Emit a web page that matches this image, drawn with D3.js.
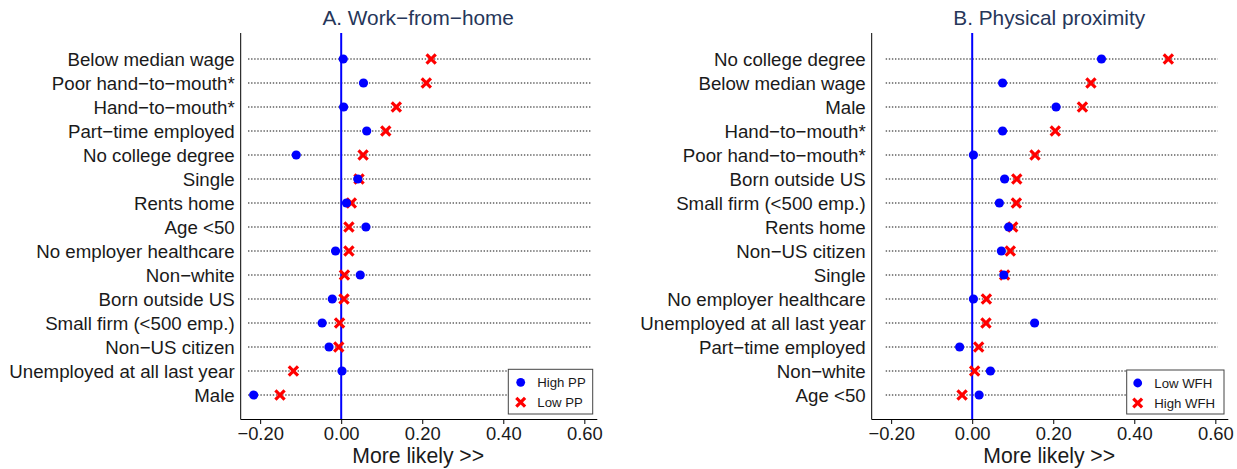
<!DOCTYPE html>
<html><head><meta charset="utf-8">
<script src="https://cdn.jsdelivr.net/npm/d3@7"></script>
<style>
html,body{margin:0;padding:0;background:#fff;}
svg{display:block;font-family:"Liberation Sans",Arial,Helvetica,sans-serif;}
</style></head>
<body><svg id="chart" width="1237" height="469"></svg>
<script>
// ---- Data ----
const titleA = "A. Work\u2212from\u2212home";
const categoriesA = ["Below median wage","Poor hand\u2212to\u2212mouth*","Hand\u2212to\u2212mouth*","Part\u2212time employed","No college degree","Single","Rents home","Age <50","No employer healthcare","Non\u2212white","Born outside US","Small firm (<500 emp.)","Non\u2212US citizen","Unemployed at all last year","Male"];
const highPP = [0.005,0.055,0.006,0.063,-0.111,0.041,0.013,0.061,-0.014,0.047,-0.022,-0.047,-0.030,0.002,-0.216];
const lowPP  = [0.222,0.210,0.136,0.110,0.054,0.044,0.025,0.019,0.019,0.008,0.007,-0.004,-0.006,-0.118,-0.151];
const legendA = ["High PP","Low PP"];

const titleB = "B. Physical proximity";
const categoriesB = ["No college degree","Below median wage","Male","Hand\u2212to\u2212mouth*","Poor hand\u2212to\u2212mouth*","Born outside US","Small firm (<500 emp.)","Rents home","Non\u2212US citizen","Single","No employer healthcare","Unemployed at all last year","Part\u2212time employed","Non\u2212white","Age <50"];
const lowWFH  = [0.319,0.075,0.207,0.075,0.003,0.080,0.067,0.090,0.072,0.078,0.003,0.154,-0.031,0.045,0.017];
const highWFH = [0.484,0.293,0.272,0.205,0.155,0.110,0.109,0.100,0.094,0.080,0.035,0.034,0.016,0.006,-0.025];
const legendB = ["Low WFH","High WFH"];

const tickValues = [-0.2,0,0.2,0.4,0.6];
const xLabel = "More likely >>";
const xDomain = [-0.248, 0.632];

// ---- Drawing ----
const svg = d3.select("#chart");
const BLUE = "#0000ff", RED = "#ff0000";
const plotTop = 33, plotBottom = 419, firstRow = 59, lastRow = 395;

function drawCross(g, x, y, s, color, w) {
  g.append("path")
    .attr("d", `M${x-s},${y-s}L${x+s},${y+s}M${x-s},${y+s}L${x+s},${y-s}`)
    .attr("stroke", color).attr("stroke-width", w).attr("fill","none");
}

function panel(cfg) {
  const g = svg.append("g");
  const x = d3.scaleLinear().domain(xDomain).range([cfg.x0, cfg.x0 + 356.6]);
  const y = d3.scalePoint().domain(cfg.cats).range([firstRow, lastRow]);

  g.append("text").attr("x", x(0.19)).attr("y", 25).attr("text-anchor","middle")
    .attr("font-size", 20.8).attr("fill", "#263659").text(cfg.title);

  g.selectAll("line.guide").data(cfg.cats).join("line").attr("class","guide")
    .attr("x1", cfg.x0 + cfg.dotL).attr("x2", cfg.x0 + cfg.dotR)
    .attr("y1", d => y(d)).attr("y2", d => y(d))
    .attr("stroke", "#111").attr("stroke-width", 1.2).attr("stroke-dasharray", "1.4,1.7");

  g.selectAll("text.cat").data(cfg.cats).join("text").attr("class","cat")
    .attr("x", cfg.x0 - 6).attr("y", d => y(d)).attr("dy", "0.36em")
    .attr("text-anchor", "end").attr("font-size", 18.7).attr("fill", "#1a1a1a").text(d => d);

  g.append("line").attr("x1", x(0)).attr("x2", x(0)).attr("y1", plotTop).attr("y2", plotBottom)
    .attr("stroke", BLUE).attr("stroke-width", 2);

  g.append("line").attr("x1", cfg.x0).attr("x2", cfg.x0).attr("y1", plotTop).attr("y2", plotBottom + 0.5)
    .attr("stroke", "#000").attr("stroke-width", 1);
  const ax = g.append("g").attr("transform", `translate(0,${plotBottom})`)
    .call(d3.axisBottom(x).tickValues(tickValues).tickSize(5).tickPadding(3)
      .tickFormat(d => d3.format(".2f")(d).replace("-", "\u2212")));
  ax.select(".domain").attr("d", `M${cfg.x0},0.5H${cfg.x0 + 356.6}`).attr("stroke","#000");
  ax.selectAll(".tick line").attr("stroke","#000");
  ax.selectAll(".tick text").attr("font-size", 18.4).attr("fill","#1a1a1a")
    .attr("font-family", "Liberation Sans, Arial, sans-serif").attr("dy","0.71em");
  g.append("text").attr("x", x(0.19)).attr("y", 463).attr("text-anchor","middle")
    .attr("font-size", 21.2).attr("fill","#1a1a1a").text(xLabel);

  cfg.cats.forEach((c, i) => {
    drawCross(g, x(cfg.s2[i]), y(c), 4.6, RED, 3.2);
  });
  cfg.cats.forEach((c, i) => {
    g.append("circle").attr("cx", x(cfg.s1[i])).attr("cy", y(c)).attr("r", 4.6).attr("fill", BLUE);
  });

  const L = cfg.legend;
  const lg = g.append("g");
  lg.append("rect").attr("x", L.x).attr("y", L.y).attr("width", L.w).attr("height", L.h)
    .attr("fill", "#fff").attr("stroke", "#444").attr("stroke-width", 1);
  lg.append("circle").attr("cx", L.x + L.mx).attr("cy", L.y + 13).attr("r", 4.4).attr("fill", BLUE);
  drawCross(lg, L.x + L.mx, L.y + 33, 4.4, RED, 3.2);
  lg.append("text").attr("x", L.x + L.tx).attr("y", L.y + 13).attr("dy","0.36em")
    .attr("font-size", 13.2).attr("fill","#1a1a1a").text(cfg.legendText[0]);
  lg.append("text").attr("x", L.x + L.tx).attr("y", L.y + 33).attr("dy","0.36em")
    .attr("font-size", 13.2).attr("fill","#1a1a1a").text(cfg.legendText[1]);
}

panel({x0: 240.7, title: titleA, cats: categoriesA, s1: highPP, s2: lowPP, dotL: 7.3, dotR: 350,
  legend: {x: 508.3, y: 369.3, w: 84.4, h: 44.7, mx: 12.4, tx: 29}, legendText: legendA});
panel({x0: 871.7, title: titleB, cats: categoriesB, s1: lowWFH, s2: highWFH, dotL: 14, dotR: 346,
  legend: {x: 1126.7, y: 370, w: 97.3, h: 44, mx: 11, tx: 27.6}, legendText: legendB});
</script></body></html>
